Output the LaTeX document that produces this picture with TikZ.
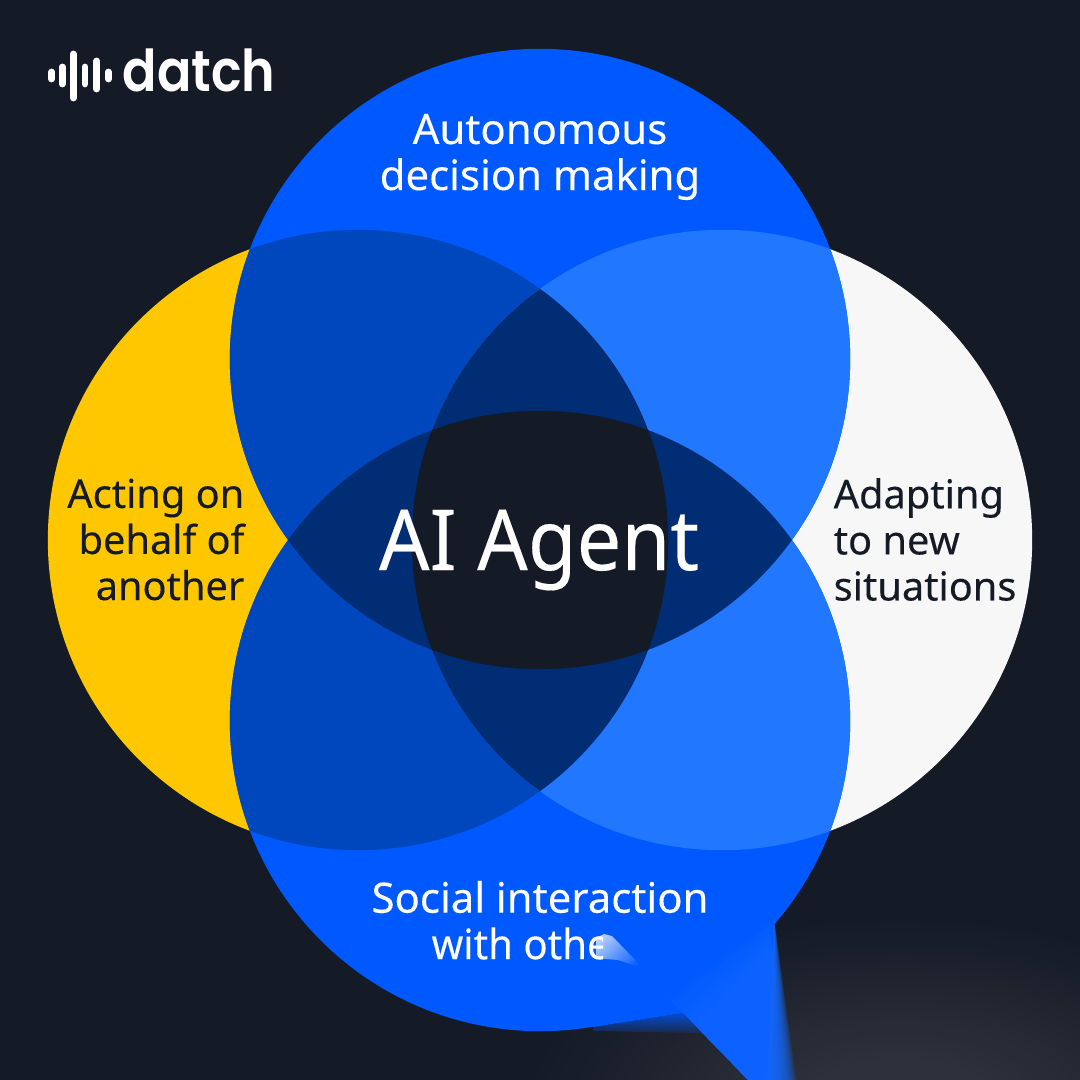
\documentclass[tikz,border=0pt]{standalone}
\usepackage{fontspec}
\setmainfont[FakeBold=0.18]{Noto Sans}
\newfontfamily\logofont[UprightFont=* SemiBold]{Poppins}
\usetikzlibrary{fadings}
\definecolor{bgc}{HTML}{141A26}
\definecolor{glowc}{HTML}{2D313B}
\definecolor{yel}{HTML}{FFC700}
\definecolor{wht}{HTML}{F7F7F7}
\definecolor{blu}{HTML}{0059FF}
\definecolor{blub}{HTML}{1469FF}
\definecolor{ovl}{HTML}{0047BD}
\definecolor{ovr}{HTML}{2277FF}
\definecolor{navy}{HTML}{012D75}
\definecolor{ink}{HTML}{141A26}
\tikzfading[name=fadeD, top color=transparent!0, bottom color=transparent!100]
\tikzfading[name=fadeS, left color=transparent!15, right color=transparent!100]
\tikzset{
 wl/.style={font=\fontsize{11.9pt}{13.1pt}\selectfont, align=center, inner sep=0pt,text=white},
 dl/.style={font=\fontsize{11.3pt}{13.1pt}\selectfont, inner sep=0pt,text=ink},
 bar/.style={line width=0.068cm,line cap=round,white},
 cT/.style={insert path={(540,359) circle[radius=3.1cm]}},
 cB/.style={insert path={(540,721) circle[radius=3.1cm]}},
 cL/.style={insert path={(358,540) circle[radius=3.1cm]}},
 cR/.style={insert path={(722,540) circle[radius=3.1cm]}},
}
\begin{document}
\begin{tikzpicture}[x=0.01cm,y=-0.01cm]
\useasboundingbox (0,0) rectangle (1080,1080);
\fill[bgc] (0,0) rectangle (1080,1080);
% bottom-right glow
\begin{scope}
\clip (0,0) rectangle (1080,1080);
\foreach \i in {1,...,25}{
  \pgfmathsetmacro{\rr}{1-(\i-1)/25*0.75}
  \pgfmathsetmacro{\cc}{\i*4}
  \fill[glowc!\cc!bgc] (900,1110) ellipse[x radius=3.7cm*\rr,y radius=1.9cm*\rr];
}
\end{scope}
% base circles
\fill[yel,cL];
\fill[wht,cR];
\fill[blu,cT];
\fill[blu,cB];
% pairwise overlaps
\begin{scope}\clip[cL]; \fill[ovl,cT]; \fill[ovl,cB]; \end{scope}
\begin{scope}\clip[cR]; \fill[ovr,cT]; \fill[ovr,cB]; \end{scope}
% triple overlaps
\begin{scope}\clip[cL]; \clip[cR]; \fill[navy,cT]; \fill[navy,cB]; \end{scope}
\begin{scope}\clip[cT]; \clip[cB]; \fill[navy] (0,0) rectangle (1080,1080); \end{scope}
% centre
\begin{scope}\clip[cT]; \clip[cB]; \clip[cL]; \fill[bgc,cR]; \end{scope}
% labels
\node[wl] (top) at (540,157) {Autonomous\\decision making};
\node[wl] (bot) at (540,897) {Social interaction};
\begin{scope}
\clip (400,900) rectangle (603,980);
\node[wl,anchor=west,xscale=.96] (botb) at (431,943.5) {with others};
\end{scope}
\node[dl,align=right,anchor=east] (left) at (245,539.5) {Acting on\\behalf of\\another};
\node[dl,align=left,anchor=west] (right) at (833,539.5) {Adapting\\to new\\situations};
\node[text=white,inner sep=0pt,xscale=.94,font=\fontsize{24pt}{24pt}\selectfont] (ai) at (539,550) {AI Agent};
% glitch: blue wedge with soft edges
\fill[blu] (593,1027) -- (683,1013) -- (700,1000) -- (593,1000) -- cycle;
\begin{scope}
\clip (593,1027) -- (683,1013) -- (702,1033) -- (593,1031) -- cycle;
\fill[blu,path fading=fadeD] (590,1006) rectangle (710,1038);
\end{scope}
\fill[blu] (650,980) -- (700,950) -- (774,917) -- (771,1080) -- (748,1080) -- (683,1013) -- cycle;
\begin{scope}
\clip (650,980) -- (700,950) -- (774,917) -- (771,1080) -- (748,1080) -- (683,1013) -- cycle;
\foreach \w in {0,...,13}{
  \fill[blub,opacity=0.12] (560+\w*9,1080) -- (772,920+\w*3) -- (772,1080) -- cycle;
}
\end{scope}
\foreach \w in {2,4,...,28}{
  \fill[blub,opacity=0.2] (774,917) -- (768+\w,1080) -- (767,1080) -- cycle;
}
% smear of the erased text
\begin{scope}
\clip (596,938) -- (604,934) -- (612,936) -- (643,968) -- (618,960) -- (596,958) -- cycle;
\fill[white,path fading=fadeS,fading angle=-35] (585,925) rectangle (648,972);
\end{scope}
% logo
\draw[bar] (51.7,72) -- (51.7,79);
\draw[bar] (62.3,67) -- (62.3,84);
\draw[bar] (73.3,54) -- (73.3,98);
\draw[bar] (85,67) -- (85,84);
\draw[bar] (96.7,61) -- (96.7,89);
\draw[bar] (108.3,72) -- (108.3,79);
\node[text=white,inner sep=0pt,anchor=base west,xscale=.88,font=\logofont\fontsize{16.4pt}{16.4pt}\selectfont] (logo) at (122,92) {datch};
\end{tikzpicture}
\end{document}
